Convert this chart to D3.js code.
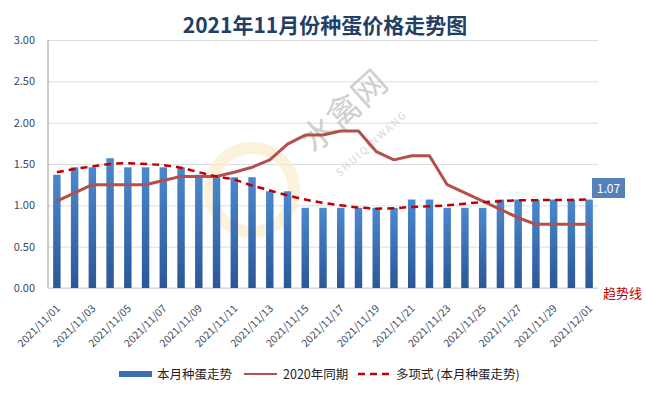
<!DOCTYPE html>
<html>
<head>
<meta charset="utf-8">
<script src="https://cdn.jsdelivr.net/npm/d3@7"></script>
<style>
  body { margin: 0; background: #fff; }
  svg text { font-family: "Noto Sans CJK SC", "Liberation Sans", sans-serif; }
</style>
</head>
<body>
<svg id="chart" width="646" height="396"></svg>
<script>
// data
const dates = ["2021/11/01","2021/11/02","2021/11/03","2021/11/04","2021/11/05","2021/11/06","2021/11/07","2021/11/08","2021/11/09","2021/11/10","2021/11/11","2021/11/12","2021/11/13","2021/11/14","2021/11/15","2021/11/16","2021/11/17","2021/11/18","2021/11/19","2021/11/20","2021/11/21","2021/11/22","2021/11/23","2021/11/24","2021/11/25","2021/11/26","2021/11/27","2021/11/28","2021/11/29","2021/11/30","2021/12/01"];
const thisMonth = [1.37,1.46,1.46,1.57,1.46,1.46,1.46,1.46,1.37,1.36,1.34,1.34,1.17,1.17,0.97,0.97,0.97,0.97,0.97,0.97,1.07,1.07,0.97,0.97,0.97,1.07,1.07,1.07,1.07,1.07,1.07];
const lastYear = [1.05,1.15,1.25,1.25,1.25,1.25,1.30,1.35,1.35,1.35,1.40,1.46,1.55,1.74,1.85,1.85,1.90,1.90,1.65,1.55,1.60,1.60,1.25,1.15,1.05,0.95,0.85,0.77,0.77,0.77,0.77];
const trend = [1.40,1.44,1.47,1.50,1.51,1.50,1.485,1.455,1.40,1.35,1.31,1.24,1.18,1.12,1.07,1.03,1.00,0.975,0.96,0.965,0.98,0.99,1.00,1.02,1.04,1.05,1.06,1.063,1.065,1.066,1.07];
const yTicks = [0, 0.5, 1, 1.5, 2, 2.5, 3];
const legendNames = ["本月种蛋走势", "2020年同期", "多项式 (本月种蛋走势)"];

const svg = d3.select("#chart");
const plotL = 48, plotR = 598, plotT = 40, plotB = 288;

const x = d3.scaleBand().domain(dates).range([plotL, plotR]).paddingInner(0.58).paddingOuter(0.29);
const cx = d => x(d) + x.bandwidth() / 2;
const y = d3.scaleLinear().domain([0, 3]).range([plotB, plotT]);

const defs = svg.append("defs");
const grad = defs.append("linearGradient").attr("id", "barGrad")
  .attr("x1", 0).attr("y1", 0).attr("x2", 0).attr("y2", 1);
grad.append("stop").attr("offset", "0%").attr("stop-color", "#4b88cf");
grad.append("stop").attr("offset", "100%").attr("stop-color", "#2b5796");

// title
svg.append("text").attr("x", 325).attr("y", 33).attr("text-anchor", "middle")
  .attr("font-size", 21).attr("font-weight", "bold").attr("fill", "#243f66")
  .text("2021年11月份种蛋价格走势图");

// y axis + grid
const yAxis = d3.axisLeft(y).tickValues(yTicks).tickFormat(d3.format(".2f")).tickSize(-(plotR - plotL)).tickPadding(13);
const gy = svg.append("g").attr("transform", `translate(${plotL},0)`).call(yAxis);
gy.select(".domain").remove();
gy.selectAll(".tick line").attr("stroke", "#dadde3");
gy.selectAll(".tick text").attr("font-size", 11).attr("fill", "#3a4a5e");
svg.append("line").attr("x1", plotL).attr("x2", plotL).attr("y1", plotT).attr("y2", plotB).attr("stroke", "#9a9a9a");
svg.append("line").attr("x1", plotL).attr("x2", plotR).attr("y1", plotB).attr("y2", plotB).attr("stroke", "#c9d3e0");

// watermark
const wm = svg.append("g");
wm.append("circle").attr("cx", 252).attr("cy", 190).attr("r", 42)
  .attr("fill", "none").attr("stroke", "#fbeccc").attr("stroke-width", 12).attr("opacity", 0.7);
wm.append("text").attr("transform", "translate(352,120) rotate(-42)").attr("text-anchor", "middle")
  .attr("font-size", 34).attr("fill", "#cfcfcf").text("水禽网");
wm.append("text").attr("transform", "translate(374,146) rotate(-42)").attr("text-anchor", "middle")
  .attr("font-size", 10).attr("letter-spacing", 2).attr("fill", "#d6d6d6").text("SHUIQINWANG");

// bars
svg.append("g").selectAll("rect").data(thisMonth).join("rect")
  .attr("x", (d, i) => x(dates[i]))
  .attr("y", d => y(d))
  .attr("width", x.bandwidth())
  .attr("height", d => plotB - y(d))
  .attr("fill", "url(#barGrad)");

// 2020 line
const line = d3.line().x((d, i) => cx(dates[i])).y(d => y(d));
svg.append("path").datum(lastYear).attr("d", line)
  .attr("fill", "none").attr("stroke", "#b3504c").attr("stroke-width", 3).attr("stroke-linejoin", "round");

// trend line
const curve = d3.line().x((d, i) => cx(dates[i])).y(d => y(d)).curve(d3.curveMonotoneX);
svg.append("path").datum(trend).attr("d", curve)
  .attr("fill", "none").attr("stroke", "#c00000").attr("stroke-width", 2.5).attr("stroke-dasharray", "7,5");

// x labels, every other date
const gx = svg.append("g");
dates.forEach((d, i) => {
  if (i % 2) return;
  gx.append("text")
    .attr("transform", `translate(${cx(d) + 4},${plotB + 21}) rotate(-45)`)
    .attr("text-anchor", "end").attr("font-size", 10.5).attr("fill", "#3a4a5e")
    .text(d);
});

// last value label
const last = thisMonth[thisMonth.length - 1];
svg.append("rect").attr("x", 592).attr("y", 178).attr("width", 33).attr("height", 20).attr("fill", "#5581bb");
svg.append("text").attr("x", 608.5).attr("y", 192.5).attr("text-anchor", "middle")
  .attr("font-size", 12).attr("fill", "#fff").text(last.toFixed(2));

svg.append("text").attr("x", 603).attr("y", 298).attr("font-size", 13).attr("fill", "#c00000").text("趋势线");

// legend
const lg = svg.append("g").attr("font-size", 12.5).attr("fill", "#222");
lg.append("rect").attr("x", 119).attr("y", 371).attr("width", 33).attr("height", 6).attr("fill", "#3a6db2");
lg.append("text").attr("x", 157).attr("y", 378.5).text(legendNames[0]);
lg.append("line").attr("x1", 244).attr("x2", 277).attr("y1", 374).attr("y2", 374).attr("stroke", "#b3504c").attr("stroke-width", 2);
lg.append("text").attr("x", 283).attr("y", 378.5).text(legendNames[1]);
lg.append("line").attr("x1", 358).attr("x2", 393).attr("y1", 374).attr("y2", 374).attr("stroke", "#c00000").attr("stroke-width", 2.5).attr("stroke-dasharray", "7,5");
lg.append("text").attr("x", 396).attr("y", 378.5).text(legendNames[2]);
</script>
</body>
</html>
